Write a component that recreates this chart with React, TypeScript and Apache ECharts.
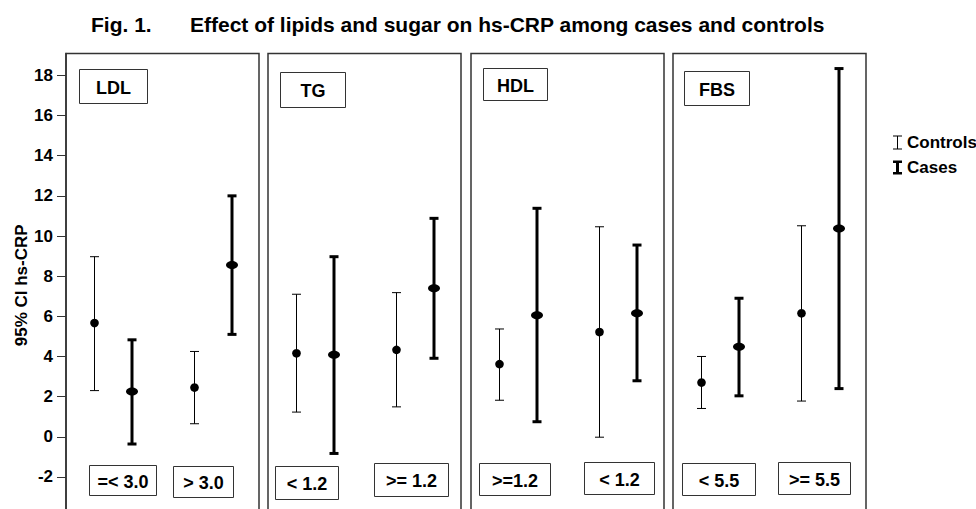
import React, { useEffect, useRef } from "react";
import * as echarts from "echarts";

// ---------- data ----------
const panelNames = ["LDL", "TG", "HDL", "FBS"];
const groupLabels = [
  ["=< 3.0", "> 3.0"],
  ["< 1.2", ">= 1.2"],
  [">=1.2", "< 1.2"],
  ["< 5.5", ">= 5.5"],
];
const seriesNames = ["Controls", "Cases"];
const yTicks = [-2, 0, 2, 4, 6, 8, 10, 12, 14, 16, 18];

const controlsMean = [[5.67, 2.45], [4.16, 4.33], [3.62, 5.22], [2.7, 6.15]];
const controlsLow = [[2.3, 0.65], [1.23, 1.49], [1.82, -0.02], [1.41, 1.78]];
const controlsHigh = [[8.97, 4.25], [7.1, 7.18], [5.37, 10.46], [4.0, 10.51]];

const casesMean = [[2.25, 8.56], [4.08, 7.4], [6.05, 6.15], [4.48, 10.38]];
const casesLow = [[-0.36, 5.1], [-0.83, 3.91], [0.75, 2.79], [2.04, 2.4]];
const casesHigh = [[4.83, 12.0], [8.97, 10.88], [11.38, 9.55], [6.9, 18.34]];

// ---------- layout ----------
const FONT = "'Liberation Sans', Arial, Helvetica, sans-serif";
const panelLefts = [66, 268, 471, 673];
const panelWidth = 193;
const gridTop = 53.5;
const gridHeight = 463.6;
const yMin = -4;
const yMax = 19.09;
const xMin = -0.472;
const xMax = 1.462;
const offset = 0.19;

const topBoxes = [
  [79, 69, 68, 34],
  [280, 72, 65, 35],
  [483, 68, 64, 32],
  [684, 71, 65, 34],
];
const bottomBoxes = [
  [[89, 465, 67, 30], [173, 466, 60, 31]],
  [[275, 466, 63, 33], [374, 463, 74, 33]],
  [[479, 463, 71, 32], [584, 462, 70, 32]],
  [[682, 463, 73, 32], [778, 462, 72, 32]],
];

const thinIcon = "path://M0,0H9V1H5V13H9V14H0V13H4V1H0Z";
const thickIcon = "path://M0,0H9V2.6H6V11.4H9V14H0V11.4H3V2.6H0Z";

function makeRender(thick: boolean) {
  return (params: any, api: any) => {
    const x = api.value(0);
    const hi = api.coord([x, api.value(2)]);
    const lo = api.coord([x, api.value(1)]);
    const mid = api.coord([x, api.value(3)]);
    const lw = thick ? 3 : 1;
    const hw = 4.5;
    const px = thick ? Math.round(hi[0]) : Math.round(hi[0]) + 0.5;
    const style = { stroke: "#000", lineWidth: lw };
    return {
      type: "group",
      children: [
        { type: "line", shape: { x1: px, y1: hi[1], x2: px, y2: lo[1] }, style },
        { type: "line", shape: { x1: px - hw, y1: hi[1], x2: px + hw, y2: hi[1] }, style },
        { type: "line", shape: { x1: px - hw, y1: lo[1], x2: px + hw, y2: lo[1] }, style },
        thick
          ? { type: "ellipse", shape: { cx: px, cy: mid[1], rx: 6, ry: 4 }, style: { fill: "#000" } }
          : { type: "circle", shape: { cx: px, cy: mid[1], r: 4.3 }, style: { fill: "#000" } },
      ],
    };
  };
}

function boxGraphic(b: number[], text: string) {
  return [
    {
      type: "rect",
      shape: { x: b[0] + 0.5, y: b[1] + 0.5, width: b[2], height: b[3] },
      style: { fill: "#fff", stroke: "#333", lineWidth: 1 },
      z: 10,
    },
    {
      type: "text",
      x: b[0] + b[2] / 2 + 0.5,
      y: b[1] + b[3] / 2 + 1.5,
      style: {
        text,
        fill: "#000",
        font: `bold 18px ${FONT}`,
        align: "center",
        verticalAlign: "middle",
      },
      z: 11,
    },
  ];
}

export default function App() {
  const ref = useRef<HTMLDivElement>(null);

  useEffect(() => {
    if (!ref.current) return;
    const chart = echarts.init(ref.current, undefined, { renderer: "svg" });

    const grids = panelLefts.map((l) => ({
      left: l,
      top: gridTop,
      width: panelWidth,
      height: gridHeight,
      outerBoundsMode: "none",
      containLabel: false,
      show: true,
      borderColor: "#333",
      borderWidth: 1.5,
      backgroundColor: "transparent",
    }));

    const xAxes = panelLefts.map((_, i) => ({
      type: "value",
      gridIndex: i,
      min: xMin,
      max: xMax,
      show: false,
    }));

    const yAxes = panelLefts.map((_, i) => ({
      type: "value",
      gridIndex: i,
      min: yMin,
      max: yMax,
      show: i === 0,
      position: "left",
      name: i === 0 ? "95% CI hs-CRP" : "",
      nameLocation: "middle",
      nameGap: 35,
      nameTextStyle: { fontFamily: FONT, fontWeight: "bold", fontSize: 17, color: "#000" },
      axisLine: { show: true, onZero: false, lineStyle: { color: "#333", width: 1.5 } },
      axisTick: { show: true, length: 9, inside: false, customValues: yTicks, lineStyle: { color: "#333", width: 1 } },
      axisLabel: {
        customValues: yTicks,
        margin: 13,
        fontFamily: FONT,
        fontWeight: "bold",
        fontSize: 17,
        color: "#000",
      },
      splitLine: { show: false },
    }));

    const series: any[] = [];
    panelLefts.forEach((_, i) => {
      series.push({
        type: "custom",
        name: seriesNames[0],
        xAxisIndex: i,
        yAxisIndex: i,
        itemStyle: { color: "#000" },
        encode: { x: 0, y: [1, 2, 3] },
        renderItem: makeRender(false),
        data: [0, 1].map((g) => [g - offset, controlsLow[i][g], controlsHigh[i][g], controlsMean[i][g]]),
      });
      series.push({
        type: "custom",
        name: seriesNames[1],
        xAxisIndex: i,
        yAxisIndex: i,
        itemStyle: { color: "#000" },
        encode: { x: 0, y: [1, 2, 3] },
        renderItem: makeRender(true),
        data: [0, 1].map((g) => [g + offset, casesLow[i][g], casesHigh[i][g], casesMean[i][g]]),
      });
    });

    const graphics: any[] = [];
    panelNames.forEach((n, i) => {
      graphics.push(...boxGraphic(topBoxes[i], n));
      groupLabels[i].forEach((t, g) => graphics.push(...boxGraphic(bottomBoxes[i][g], t)));
    });

    const titleStyle = { fontFamily: FONT, fontWeight: "bold", fontSize: 21, color: "#000" };

    chart.setOption({
      animation: false,
      backgroundColor: "#fff",
      title: [
        { text: "Fig. 1.", left: 91, top: 14, padding: 0, textStyle: titleStyle },
        {
          text: "Effect of lipids and sugar on hs-CRP among cases and controls",
          left: 190,
          top: 14,
          padding: 0,
          textStyle: titleStyle,
        },
      ],
      legend: {
        orient: "vertical",
        left: 888,
        top: 129,
        itemWidth: 9,
        itemHeight: 14,
        itemGap: 8,
        selectedMode: false,
        data: [
          { name: seriesNames[0], icon: thinIcon },
          { name: seriesNames[1], icon: thickIcon },
        ],
        textStyle: { fontFamily: FONT, fontWeight: "bold", fontSize: 17, color: "#000" },
      },
      grid: grids,
      xAxis: xAxes,
      yAxis: yAxes,
      series,
      graphic: graphics,
    });

    return () => chart.dispose();
  }, []);

  return (
    <div
      ref={ref}
      style={{ position: "fixed", left: 0, top: 0, width: 976, height: 509, background: "#fff" }}
    />
  );
}
